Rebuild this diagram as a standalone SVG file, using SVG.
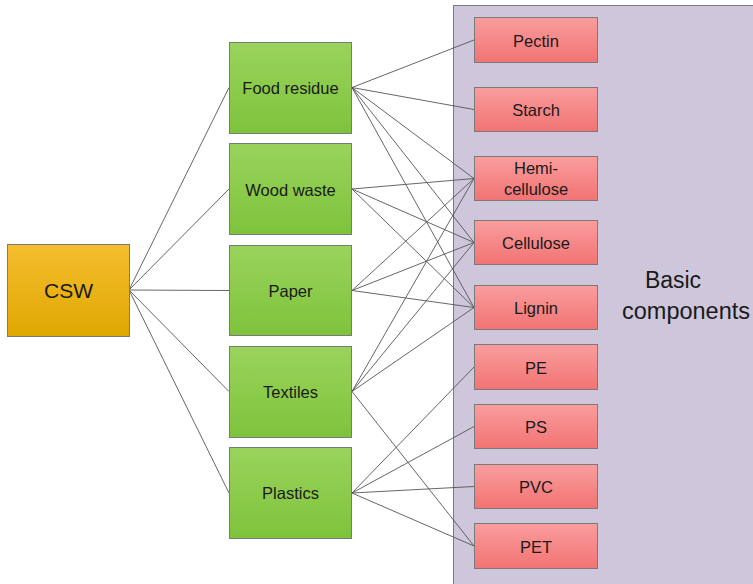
<svg xmlns="http://www.w3.org/2000/svg" width="753" height="584" viewBox="0 0 753 584">
<defs>
<linearGradient id="gGold" x1="0" y1="0" x2="0" y2="1"><stop offset="0" stop-color="#F4BE2E"/><stop offset="1" stop-color="#E0A700"/></linearGradient>
<linearGradient id="gGreen" x1="0" y1="0" x2="0" y2="1"><stop offset="0" stop-color="#9AD35C"/><stop offset="1" stop-color="#7EC33C"/></linearGradient>
<linearGradient id="gRed" x1="0" y1="0" x2="0" y2="1"><stop offset="0" stop-color="#FA9D9D"/><stop offset="1" stop-color="#F27373"/></linearGradient>
</defs>
<style>
.t{font-family:"Liberation Sans",Arial,sans-serif;fill:#1a1a1a;text-anchor:middle}
.n{font-size:16.5px}
.bx{stroke:#7a7a7a;stroke-width:1}
.g{fill:url(#gGreen)}
.r{fill:url(#gRed)}
#connectors line{stroke:#555;stroke-width:0.9}
</style>
<rect x="453.5" y="5.5" width="320" height="600" fill="#CEC6DB" stroke="#7a7a7a"/>
<text class="t" x="673" y="288" style="font-size:23px">Basic</text>
<text x="622" y="319" style="font-family:'Liberation Sans',Arial,sans-serif;font-size:23.5px;fill:#1a1a1a">components</text>
<g id="connectors">
<line x1="129" y1="290" x2="229" y2="87.5"/>
<line x1="129" y1="290" x2="229" y2="189"/>
<line x1="129" y1="290" x2="229" y2="290.5"/>
<line x1="129" y1="290" x2="229" y2="391.5"/>
<line x1="129" y1="290" x2="229" y2="493"/>
<line x1="352" y1="87.5" x2="474" y2="40"/>
<line x1="352" y1="87.5" x2="474" y2="109.5"/>
<line x1="352" y1="87.5" x2="474" y2="178.5"/>
<line x1="352" y1="87.5" x2="474" y2="242.5"/>
<line x1="352" y1="87.5" x2="474" y2="307.5"/>
<line x1="352" y1="189" x2="474" y2="178.5"/>
<line x1="352" y1="189" x2="474" y2="242.5"/>
<line x1="352" y1="189" x2="474" y2="307.5"/>
<line x1="352" y1="290.5" x2="474" y2="178.5"/>
<line x1="352" y1="290.5" x2="474" y2="242.5"/>
<line x1="352" y1="290.5" x2="474" y2="307.5"/>
<line x1="352" y1="391.5" x2="474" y2="178.5"/>
<line x1="352" y1="391.5" x2="474" y2="242.5"/>
<line x1="352" y1="391.5" x2="474" y2="307.5"/>
<line x1="352" y1="391.5" x2="474" y2="546"/>
<line x1="352" y1="493" x2="474" y2="367"/>
<line x1="352" y1="493" x2="474" y2="426.5"/>
<line x1="352" y1="493" x2="474" y2="486.5"/>
<line x1="352" y1="493" x2="474" y2="546"/>
</g>
<g id="csw"><rect class="bx" x="7.5" y="244.5" width="122" height="92" fill="url(#gGold)"/><text class="t" x="68.5" y="298" style="font-size:21px">CSW</text></g>
<g id="food"><rect class="bx g" x="229.5" y="42.5" width="122" height="91"/><text class="t n" x="290.5" y="93.5">Food residue</text></g>
<g id="wood"><rect class="bx g" x="229.5" y="143.5" width="122" height="91"/><text class="t n" x="290.5" y="195.5">Wood waste</text></g>
<g id="paper"><rect class="bx g" x="229.5" y="245.5" width="122" height="90"/><text class="t n" x="290.5" y="296.5">Paper</text></g>
<g id="textiles"><rect class="bx g" x="229.5" y="346.5" width="122" height="91"/><text class="t n" x="290.5" y="397.5">Textiles</text></g>
<g id="plastics"><rect class="bx g" x="229.5" y="447.5" width="122" height="91"/><text class="t n" x="290.5" y="498.5">Plastics</text></g>
<g id="pectin"><rect class="bx r" x="474.5" y="17.5" width="123" height="45"/><text class="t n" x="536" y="46.5">Pectin</text></g>
<g id="starch"><rect class="bx r" x="474.5" y="87.5" width="123" height="44"/><text class="t n" x="536" y="115.5">Starch</text></g>
<g id="hemi"><rect class="bx r" x="474.5" y="156.5" width="123" height="44"/><text class="t n" x="536" y="174">Hemi-</text><text class="t n" x="536" y="195">cellulose</text></g>
<g id="cellulose"><rect class="bx r" x="474.5" y="220.5" width="123" height="44"/><text class="t n" x="536" y="248.5">Cellulose</text></g>
<g id="lignin"><rect class="bx r" x="474.5" y="285.5" width="123" height="44"/><text class="t n" x="536" y="313.5">Lignin</text></g>
<g id="pe"><rect class="bx r" x="474.5" y="344.5" width="123" height="45"/><text class="t n" x="536" y="373.5">PE</text></g>
<g id="ps"><rect class="bx r" x="474.5" y="404.5" width="123" height="44"/><text class="t n" x="536" y="432.5">PS</text></g>
<g id="pvc"><rect class="bx r" x="474.5" y="464.5" width="123" height="44"/><text class="t n" x="536" y="492.5">PVC</text></g>
<g id="pet"><rect class="bx r" x="474.5" y="523.5" width="123" height="45"/><text class="t n" x="536" y="552.5">PET</text></g>
</svg>
